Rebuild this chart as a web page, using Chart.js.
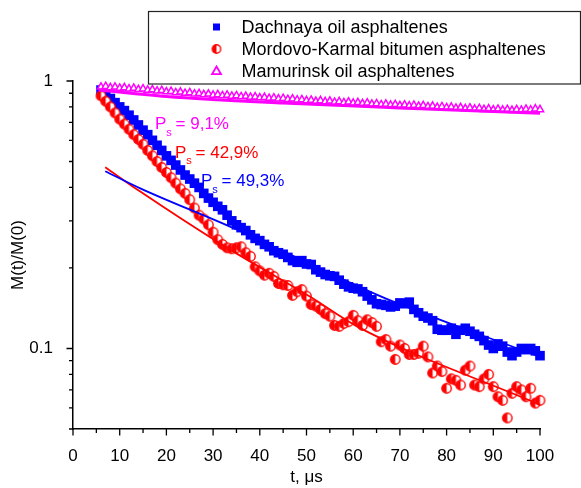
<!DOCTYPE html>
<html>
<head>
<meta charset="utf-8">
<script src="https://cdn.jsdelivr.net/npm/chart.js@4/dist/chart.umd.min.js"></script>
<style>
  html, body { margin: 0; padding: 0; background: #fff; }
  #wrap { width: 581px; height: 488px; position: relative; }
</style>
</head>
<body>
<div id="wrap"><canvas id="c"></canvas></div>
<script>
// Echo decay M(t)/M(0) of asphaltene samples, t in microseconds
const times = [6,7,8,9,10,11,12,13,14,15,16,17,18,19,20,21,22,23,24,25,26,27,28,29,30,
  31,32,33,34,35,36,37,38,39,40,41,42,43,44,45,46,47,48,49,50,51,52,53,54,55,56,57,58,59,60,
  61,62,63,64,65,66,67,68,69,70,71,72,73,74,75,76,77,78,79,80,81,82,83,84,85,86,87,88,89,90,
  91,92,93,94,95,96,97,98,99,100];

const dachnaya = [0.925,0.89,0.86,0.83,0.80,0.775,0.745,0.715,0.685,0.655,0.63,0.60,0.575,0.55,0.525,
  0.505,0.485,0.465,0.445,0.43,0.415,0.40,0.38,0.365,0.352,
  0.34,0.33,0.315,0.30,0.29,0.283,0.276,0.266,0.258,0.253,0.245,0.24,0.232,0.228,0.225,
  0.219,0.213,0.21,0.213,0.207,0.206,0.197,0.193,0.189,0.187,0.186,0.18,0.174,0.17,0.168,
  0.167,0.163,0.157,0.152,0.147,0.146,0.145,0.143,0.144,0.148,0.147,0.149,0.14,0.136,0.132,
  0.13,0.127,0.118,0.117,0.117,0.119,0.113,0.117,0.119,0.116,0.113,0.111,0.107,0.103,0.1,
  0.104,0.102,0.097,0.094,0.097,0.1,0.099,0.1,0.098,0.094];

const mordovo = [0.88,0.84,0.80,0.76,0.72,0.69,0.66,0.63,0.605,0.58,0.55,0.525,0.50,0.475,0.455,
  0.435,0.415,0.395,0.38,0.36,0.335,0.315,0.305,0.29,0.272,
  0.255,0.245,0.238,0.236,0.238,0.24,0.228,0.221,0.202,0.195,0.188,0.191,0.186,0.175,0.173,
  0.172,0.158,0.163,0.166,0.157,0.146,0.144,0.14,0.135,0.132,0.122,0.121,0.124,0.126,0.133,
  0.127,0.122,0.128,0.125,0.121,0.106,0.108,0.102,0.091,0.103,0.1,0.095,0.095,0.096,0.102,
  0.093,0.081,0.086,0.082,0.071,0.077,0.076,0.073,0.083,0.086,0.073,0.072,0.077,0.08,0.072,
  0.066,0.064,0.055,0.068,0.072,0.07,0.066,0.071,0.0625,0.064];

const mamurinsk = [0.95,0.955,0.945,0.95,0.94,0.945,0.935,0.94,0.93,0.935,0.925,0.928,0.918,0.922,0.912,
  0.915,0.905,0.91,0.9,0.905,0.895,0.898,0.89,0.894,0.886,
  0.89,0.882,0.886,0.878,0.882,0.874,0.877,0.87,0.873,0.866,0.869,0.862,0.865,0.858,0.861,
  0.854,0.857,0.85,0.852,0.845,0.848,0.84,0.845,0.838,0.842,0.834,0.838,0.83,0.835,0.827,
  0.831,0.824,0.828,0.82,0.823,0.816,0.82,0.813,0.817,0.81,0.814,0.808,0.812,0.805,0.81,
  0.802,0.806,0.798,0.802,0.795,0.799,0.792,0.796,0.789,0.793,0.786,0.79,0.783,0.787,0.781,
  0.785,0.779,0.783,0.777,0.782,0.778,0.785,0.78,0.787,0.782];

// Fitted decay curves
const dachnayaFitT = [6.9, 14.4, 34.3, 57.9, 66.9, 100];
const dachnayaFitV = [0.46, 0.397, 0.282, 0.181, 0.154, 0.093];
const mordovoFitT = [6.9, 14.4, 31.8, 50.8, 60.8, 100];
const mordovoFitV = [0.476, 0.386, 0.245, 0.156, 0.121, 0.0616];
const mamurinskFitT = [5.5, 20, 45, 70, 100];
const mamurinskFitV = [0.925, 0.875, 0.827, 0.793, 0.757];

const seriesNames = ['Dachnaya oil asphaltenes', 'Mordovo-Karmal bitumen asphaltenes', 'Mamurinsk oil asphaltenes'];
const psValues = ['9,1%', '42,9%', '49,3%'];   // Mamurinsk, Mordovo-Karmal, Dachnaya

const yTickValues = [0.05,0.06,0.07,0.08,0.09,0.1,0.2,0.3,0.4,0.5,0.6,0.7,0.8,0.9,1];
const yTickLabels = [[0.1, '0.1'], [1, '1']];
const xTickStep = 5;
const xLabelStep = 10;

const BLUE = '#0000ff', RED = '#ff0000', MAGENTA = '#ff00ff';
const FONT = '"Liberation Sans", Arial, Helvetica, sans-serif';
Chart.defaults.font.family = FONT;
Chart.defaults.color = '#000';

const toPts = (xs, ys) => xs.map((x, i) => ({ x: x, y: ys[i] }));

// half-filled circle marker
function halfCircle(r) {
  const s = Math.ceil(r * 2 + 3);
  const c = document.createElement('canvas');
  c.width = s; c.height = s;
  const g = c.getContext('2d');
  const m = s / 2;
  g.fillStyle = '#fff';
  g.beginPath(); g.arc(m, m, r, 0, Math.PI * 2); g.fill();
  g.fillStyle = RED;
  g.beginPath(); g.arc(m, m, r, Math.PI / 2, Math.PI * 1.5); g.closePath(); g.fill();
  g.strokeStyle = RED; g.lineWidth = 1.4;
  g.beginPath(); g.arc(m, m, r, 0, Math.PI * 2); g.stroke();
  return c;
}
const circleMarker = halfCircle(4.7);
const legendCircle = halfCircle(4.2);

// outward tick marks: long at labelled values, short elsewhere
const tickMarks = {
  id: 'tickMarks',
  afterDraw(chart) {
    const { ctx } = chart;
    const xs = chart.scales.x, ys = chart.scales.y;
    ctx.save();
    ctx.strokeStyle = '#000';
    ctx.lineWidth = 1.3;
    ctx.beginPath();
    ys.ticks.forEach(t => {
      const py = ys.getPixelForValue(t.value);
      const len = t.label ? 6.5 : 4;
      ctx.moveTo(ys.right, py); ctx.lineTo(ys.right - len, py);
    });
    xs.ticks.forEach(t => {
      const px = xs.getPixelForValue(t.value);
      const len = t.label ? 6.5 : 4;
      ctx.moveTo(px, xs.top); ctx.lineTo(px, xs.top + len);
    });
    ctx.stroke();
    ctx.restore();
  }
};

// P_s annotations next to the curves
const psNotes = {
  id: 'psNotes',
  afterDatasetsDraw(chart) {
    const { ctx } = chart;
    const notes = [
      { x: 155, y: 129, color: MAGENTA, text: psValues[0] },
      { x: 175, y: 157.5, color: RED, text: psValues[1] },
      { x: 201, y: 186, color: BLUE, text: psValues[2] }
    ];
    ctx.save();
    ctx.textBaseline = 'alphabetic';
    ctx.textAlign = 'left';
    notes.forEach(n => {
      ctx.fillStyle = n.color;
      ctx.font = '17px ' + FONT;
      ctx.fillText('P', n.x, n.y);
      const pw = ctx.measureText('P').width;
      ctx.font = '11px ' + FONT;
      ctx.fillText('s', n.x + pw, n.y + 6.5);
      const sw = ctx.measureText('s').width;
      ctx.font = '17px ' + FONT;
      ctx.fillText(' = ' + n.text, n.x + pw + sw - 1, n.y);
    });
    ctx.restore();
  }
};

// boxed legend in the upper right
const boxLegend = {
  id: 'boxLegend',
  afterDatasetsDraw(chart) {
    const { ctx } = chart;
    const left = 148.5, top = 11.5, right = 580.5, bottom = 84;
    ctx.save();
    ctx.fillStyle = '#fff';
    ctx.fillRect(left, top, right - left, bottom - top);
    ctx.strokeStyle = '#222';
    ctx.lineWidth = 1.2;
    ctx.strokeRect(left, top, right - left, bottom - top);
    const rows = [27, 49, 71];
    const ix = 216.5, tx = 241.5;
    ctx.font = '18px ' + FONT;
    ctx.textBaseline = 'middle';
    ctx.textAlign = 'left';
    chart.data.datasets.filter(d => d.legendRow !== undefined).forEach(d => {
      const y = rows[d.legendRow];
      if (d.legendRow === 0) {
        ctx.fillStyle = BLUE;
        ctx.fillRect(ix - 3.5, y - 3.5, 7, 7);
      } else if (d.legendRow === 1) {
        ctx.drawImage(legendCircle, ix - legendCircle.width / 2, y - legendCircle.height / 2);
      } else {
        ctx.fillStyle = '#fff';
        ctx.strokeStyle = MAGENTA;
        ctx.lineWidth = 1.8;
        ctx.beginPath();
        ctx.moveTo(ix, y - 4.5); ctx.lineTo(ix + 4.5, y + 3.2); ctx.lineTo(ix - 4.5, y + 3.2); ctx.closePath();
        ctx.fill(); ctx.stroke();
      }
      ctx.fillStyle = '#000';
      ctx.fillText(d.label, tx, y + 1);
    });
    ctx.restore();
  }
};

const fitLine = (pts, color, width) => ({
  data: pts, showLine: true, borderColor: color, borderWidth: width,
  pointRadius: 0, cubicInterpolationMode: 'monotone', fill: false, order: 0, clip: false
});

new Chart(document.getElementById('c'), {
  type: 'line',
  data: {
    datasets: [
      fitLine(toPts(dachnayaFitT, dachnayaFitV), BLUE, 1.8),
      fitLine(toPts(mordovoFitT, mordovoFitV), RED, 1.8),
      fitLine(toPts(mamurinskFitT, mamurinskFitV), MAGENTA, 3),
      {
        label: seriesNames[0], legendRow: 0,
        data: toPts(times, dachnaya), showLine: false,
        pointStyle: 'rect', pointRadius: 6.8, pointBorderWidth: 0,
        pointBackgroundColor: BLUE, pointBorderColor: BLUE, order: 3, clip: false
      },
      {
        label: seriesNames[1], legendRow: 1,
        data: toPts(times, mordovo), showLine: false,
        pointStyle: circleMarker, pointRadius: 5, order: 2, clip: false
      },
      {
        label: seriesNames[2], legendRow: 2,
        data: toPts(times, mamurinsk), showLine: false,
        pointStyle: 'triangle', pointRadius: 4.2, pointBorderWidth: 1.5,
        pointBackgroundColor: '#fff', pointBorderColor: MAGENTA, order: 1, clip: false
      }
    ]
  },
  options: {
    responsive: true,
    maintainAspectRatio: false,
    animation: false,
    events: [],
    layout: { padding: { left: 0, top: 81, right: 41, bottom: 0 } },
    plugins: { legend: { display: false }, tooltip: { enabled: false } },
    scales: {
      x: {
        type: 'linear', min: 0, max: 100,
        grid: { display: false },
        border: { display: true, color: '#000', width: 1.5 },
        ticks: {
          stepSize: xTickStep, autoSkip: false, maxRotation: 0, padding: 9,
          font: { size: 17 }, color: '#000',
          callback: v => (v % xLabelStep === 0 ? String(v) : '')
        },
        title: { display: true, text: 't, μs', font: { size: 17 }, color: '#000', padding: { top: 0, bottom: 0 } },
        afterFit: s => { s.height = 59; }
      },
      y: {
        type: 'logarithmic', min: 0.05, max: 1,
        grid: { display: false },
        border: { display: true, color: '#000', width: 1.5 },
        afterBuildTicks: s => { s.ticks = yTickValues.map(v => ({ value: v })); },
        ticks: {
          autoSkip: false, padding: 12, font: { size: 17 }, color: '#000',
          callback: v => {
            const hit = yTickLabels.find(p => Math.abs(p[0] - v) < 1e-9);
            return hit ? hit[1] : '';
          }
        },
        title: { display: true, text: 'M(t)/M(0)', font: { size: 17 }, color: '#000', padding: { top: 8, bottom: 0 } },
        afterFit: s => { s.width = 73; }
      }
    }
  },
  plugins: [tickMarks, psNotes, boxLegend]
});
</script>
</body>
</html>
